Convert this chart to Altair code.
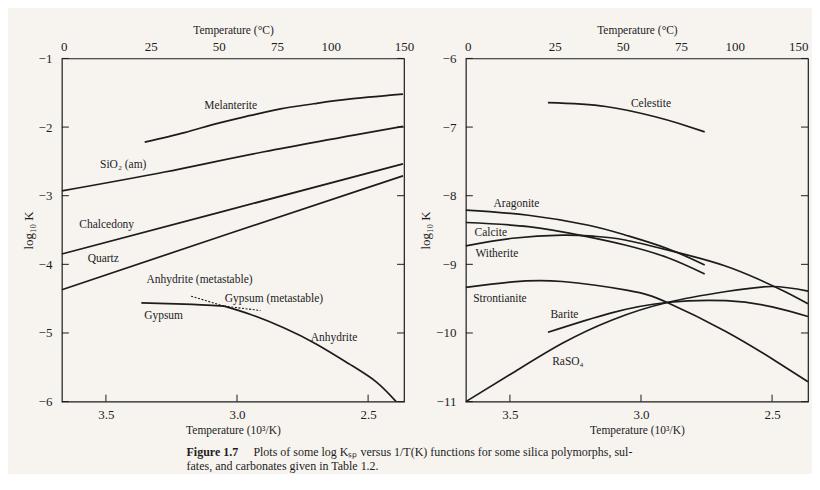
import altair as alt
import pandas as pd

FONT = "Liberation Serif"
INK = "#1c1c1c"
PAPER = "#f7f4f0"

# x = 1000/T(K), y = log10 K
X_LEFT, X_RIGHT = 3.668, 2.363
X_TICKS = [3.5, 3.0, 2.5]
CELSIUS = [0, 25, 50, 75, 100, 150]

# ---------------- left panel: silica polymorphs and sulfates
melanterite_x = [3.352, 3.200, 3.074, 2.948, 2.834, 2.708, 2.582, 2.367]
melanterite_y = [-2.22, -2.08, -1.945, -1.83, -1.735, -1.66, -1.595, -1.52]
sio2_x = [3.668, 3.276, 2.897, 2.367]
sio2_y = [-2.93, -2.655, -2.36, -1.99]
chalcedony_x = [3.668, 3.049, 2.367]
chalcedony_y = [-3.85, -3.225, -2.535]
quartz_x = [3.668, 3.049, 2.367]
quartz_y = [-4.37, -3.576, -2.71]
gypsum_x = [3.365, 3.200, 3.049]
gypsum_y = [-4.561, -4.58, -4.609]
gypsum_meta_x = [3.049, 2.910]
gypsum_meta_y = [-4.609, -4.673]
anhydrite_meta_x = [3.175, 3.049]
anhydrite_meta_y = [-4.464, -4.609]
anhydrite_x = [3.049, 2.948, 2.822, 2.695, 2.569, 2.468, 2.393]
anhydrite_y = [-4.609, -4.731, -4.924, -5.167, -5.458, -5.715, -6.0]

left_label_text = ["Melanterite", "SiO₂ (am)", "Chalcedony", "Quartz",
                   "Anhydrite (metastable)", "Gypsum (metastable)", "Gypsum", "Anhydrite"]
left_label_x = [3.024, 3.434, 3.497, 3.510, 3.143, 2.859, 3.280, 2.630]
left_label_y = [-1.688, -2.551, -3.432, -3.917, -4.231, -4.503, -4.746, -5.07]
left_yticks = [-1, -2, -3, -4, -5, -6]

# ---------------- right panel: sulfates and carbonates
celestite_x = [3.355, 3.135, 2.946, 2.858, 2.757]
celestite_y = [-6.645, -6.70, -6.85, -6.945, -7.07]
aragonite_x = [3.668, 3.43, 3.20, 3.061, 2.90, 2.757]
aragonite_y = [-8.21, -8.285, -8.43, -8.572, -8.77, -9.01]
calcite_x = [3.668, 3.43, 3.22, 3.061, 2.90, 2.757]
calcite_y = [-8.39, -8.45, -8.585, -8.718, -8.90, -9.14]
witherite_x = [3.668, 3.49, 3.30, 3.18, 3.061, 2.90, 2.807, 2.681, 2.556, 2.45, 2.363]
witherite_y = [-8.73, -8.62, -8.575, -8.59, -8.645, -8.79, -8.88, -9.02, -9.21, -9.40, -9.575]
strontianite_x = [3.668, 3.49, 3.30, 3.05, 2.90, 2.68, 2.49, 2.363]
strontianite_y = [-9.335, -9.255, -9.25, -9.38, -9.555, -9.97, -10.40, -10.71]
raso4_x = [3.668, 3.48, 3.30, 3.11, 2.90, 2.675, 2.50, 2.363]
raso4_y = [-11.0, -10.56, -10.15, -9.81, -9.556, -9.396, -9.323, -9.39]
barite_x = [3.355, 3.116, 2.902, 2.675, 2.50, 2.363]
barite_y = [-9.99, -9.71, -9.556, -9.53, -9.62, -9.76]

right_label_text = ["Celestite", "Aragonite", "Calcite", "Witherite",
                    "Strontianite", "Barite", "RaSO₄"]
right_label_x = [2.962, 3.475, 3.573, 3.550, 3.538, 3.292, 3.279]
right_label_y = [-6.670, -8.121, -8.537, -8.849, -9.508, -9.737, -10.425]
right_yticks = [-6, -7, -8, -9, -10, -11]

CAPTION_BOLD = "Figure 1.7"
CAPTION_LINE1 = "Plots of some log Kₛₚ versus 1/T(K) functions for some silica polymorphs, sul-"
CAPTION_LINE2 = "fates, and carbonates given in Table 1.2."

W = 343
H = 344
TICK = 7


def curves(pairs):
    rows = []
    for name, xs, ys in pairs:
        for a, b in zip(xs, ys):
            rows.append({"curve": name, "x": a, "y": b})
    return pd.DataFrame(rows)


def panel(solid, dotted, labels, yticks, top_align, with_caption=False):
    xs = alt.Scale(domain=[X_RIGHT, X_LEFT], reverse=True, nice=False, zero=False)
    ys = alt.Scale(domain=[min(yticks), max(yticks)], nice=False, zero=False)
    common = dict(ticks=False, tickSize=0, domain=False, grid=False, labelFlush=False,
                  labelOverlap=False, labelFont=FONT, titleFont=FONT, labelFontSize=13,
                  titleFontWeight="normal", labelColor=INK, titleColor=INK)
    bottom = alt.Axis(orient="bottom", values=X_TICKS, format=".1f", titleFontSize=11.5,
                      title="Temperature (10³/K)", labelPadding=7, titlePadding=3, **common)
    top = alt.Axis(orient="top", values=[1000.0 / (c + 273.15) for c in CELSIUS],
                   labelExpr="round(1000 / datum.value - 273.15)", labelAlign=top_align,
                   titleFontSize=11.5, title="Temperature (°C)", labelPadding=5,
                   titlePadding=5, **common)
    left = alt.Axis(orient="left", values=yticks, format="d", title="log₁₀ K",
                    titleFontSize=13, labelPadding=10, titlePadding=3, **common)

    layers = []
    layers.append(alt.Chart(solid).mark_line(interpolate="natural", color=INK, strokeWidth=1.7).encode(
        x=alt.X("x:Q", scale=xs, axis=bottom),
        y=alt.Y("y:Q", scale=ys, axis=left),
        detail="curve:N"))
    if dotted is not None:
        layers.append(alt.Chart(dotted).mark_line(color=INK, strokeWidth=1.1, strokeDash=[2, 1.6]).encode(
            x=alt.X("x:Q", scale=xs, axis=None),
            y=alt.Y("y:Q", scale=ys, axis=None),
            detail="curve:N"))
    layers.append(alt.Chart(labels).mark_text(font=FONT, fontSize=11.5, color=INK,
                                              align="center", baseline="middle").encode(
        x=alt.X("x:Q", scale=xs, axis=top),
        y=alt.Y("y:Q", scale=ys, axis=None),
        text="label:N"))
    yt = pd.DataFrame({"v": yticks})
    xt = pd.DataFrame({"v": X_TICKS})
    layers.append(alt.Chart(yt).mark_rule(color=INK, strokeWidth=1).encode(
        y=alt.Y("v:Q", scale=ys, axis=None), x=alt.value(0), x2=alt.value(TICK)))
    layers.append(alt.Chart(yt).mark_rule(color=INK, strokeWidth=1).encode(
        y=alt.Y("v:Q", scale=ys, axis=None), x=alt.value(W - TICK), x2=alt.value(W)))
    layers.append(alt.Chart(xt).mark_rule(color=INK, strokeWidth=1).encode(
        x=alt.X("v:Q", scale=xs, axis=None), y=alt.value(H - TICK), y2=alt.value(H)))
    if with_caption:
        one = pd.DataFrame({"a": [0]})
        layers.append(alt.Chart(one).mark_text(text=CAPTION_BOLD, font=FONT, fontSize=12,
                                               fontWeight="bold", color=INK, align="left",
                                               baseline="alphabetic").encode(
            x=alt.value(125), y=alt.value(399)))
        layers.append(alt.Chart(one).mark_text(text=CAPTION_LINE1, font=FONT, fontSize=12,
                                               color=INK, align="left",
                                               baseline="alphabetic").encode(
            x=alt.value(192), y=alt.value(399)))
        layers.append(alt.Chart(one).mark_text(text=CAPTION_LINE2, font=FONT, fontSize=12,
                                               color=INK, align="left",
                                               baseline="alphabetic").encode(
            x=alt.value(125), y=alt.value(413)))
    return alt.layer(*layers).resolve_axis(x="independent", y="independent").properties(width=W, height=H)


left_solid = curves([
    ("Melanterite", melanterite_x, melanterite_y),
    ("SiO2", sio2_x, sio2_y),
    ("Chalcedony", chalcedony_x, chalcedony_y),
    ("Quartz", quartz_x, quartz_y),
    ("Gypsum", gypsum_x, gypsum_y),
    ("Anhydrite", anhydrite_x, anhydrite_y),
])
left_dotted = curves([
    ("Gypsum (metastable)", gypsum_meta_x, gypsum_meta_y),
    ("Anhydrite (metastable)", anhydrite_meta_x, anhydrite_meta_y),
])
left_labels = pd.DataFrame({"label": left_label_text, "x": left_label_x, "y": left_label_y})

right_solid = curves([
    ("Celestite", celestite_x, celestite_y),
    ("Aragonite", aragonite_x, aragonite_y),
    ("Calcite", calcite_x, calcite_y),
    ("Witherite", witherite_x, witherite_y),
    ("Strontianite", strontianite_x, strontianite_y),
    ("RaSO4", raso4_x, raso4_y),
    ("Barite", barite_x, barite_y),
])
right_labels = pd.DataFrame({"label": right_label_text, "x": right_label_x, "y": right_label_y})

left_top_align = {"condition": [{"test": "datum.value > 3.6 || datum.value < 2.4", "value": "center"}],
                  "value": "left"}
right_top_align = {"condition": [{"test": "datum.value > 3.6", "value": "center"},
                                 {"test": "datum.value < 2.4", "value": "right"}],
                   "value": "left"}

chart = alt.hconcat(
    panel(left_solid, left_dotted, left_labels, left_yticks, left_top_align, with_caption=True),
    panel(right_solid, None, right_labels, right_yticks, right_top_align),
    spacing=62, bounds="flush",
).properties(
    background=PAPER,
    padding={"left": 13, "top": 15, "right": 0, "bottom": 0},
).configure(font=FONT).configure_view(stroke=INK, strokeWidth=1.2, fill=None)

chart.save("out.html", embed_options={"renderer": "svg", "actions": False})
